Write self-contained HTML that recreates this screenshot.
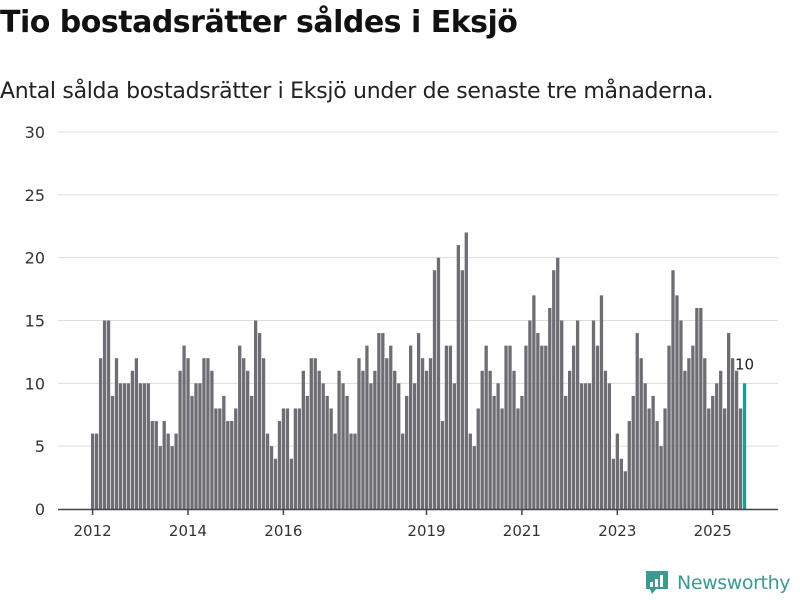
<!DOCTYPE html>
<html><head><meta charset="utf-8">
<style>
body{margin:0;background:#fff;font-family:"Liberation Sans","DejaVu Sans",sans-serif;}
#wrap{position:relative;width:800px;height:600px;overflow:hidden;}
h1{position:absolute;left:0;top:5px;margin:0;font-size:30px;font-weight:bold;color:#111;font-family:"DejaVu Sans","Liberation Sans",sans-serif;letter-spacing:-0.5px}
.sub{position:absolute;left:0;top:79px;font-size:22px;color:#222;font-family:"DejaVu Sans","Liberation Sans",sans-serif;letter-spacing:-0.3px}
</style></head><body>
<div id="wrap">
<h1>Tio bostadsrätter såldes i Eksjö</h1>
<div class="sub">Antal sålda bostadsrätter i Eksjö under de senaste tre månaderna.</div>
<svg id="chart" width="800" height="600" style="position:absolute;left:0;top:0"></svg>
</div>
<script>
const values = [6,6,12,15,15,9,12,10,10,10,11,12,10,10,10,7,7,5,7,6,5,6,11,13,
12,9,10,10,12,12,11,8,8,9,7,7,8,13,12,11,9,15,14,12,6,5,4,7,
8,8,4,8,8,11,9,12,12,11,10,9,8,6,11,10,9,6,6,12,11,13,10,11,
14,14,12,13,11,10,6,9,13,10,14,12,11,12,19,20,7,13,13,10,21,19,22,6,
5,8,11,13,11,9,10,8,13,13,11,8,9,13,15,17,14,13,13,16,19,20,15,9,
11,13,15,10,10,10,15,13,17,11,10,4,6,4,3,7,9,14,12,10,8,9,7,5,
8,13,19,17,15,11,12,13,16,16,12,8,9,10,11,8,14,12,11,8,10];
const yTicks = [0,5,10,15,20,25,30];
const xTickLabels = ["2012","2014","2016","2019","2021","2023","2025"];
const xTickIndex = [0,24,48,84,108,132,156];

const NS="http://www.w3.org/2000/svg";
const svg=document.getElementById('chart');
const y0=509, pxPerUnit=(509-132)/30;
function yScale(v){return y0 - v*pxPerUnit;}
function xScale(i){return 91 + i*3.975;}
function mk(tag,attrs){const e=document.createElementNS(NS,tag);for(const k in attrs)e.setAttribute(k,attrs[k]);svg.appendChild(e);return e;}

yTicks.forEach(t=>{
  const y=yScale(t);
  if(t>0){const g=mk('line',{x1:58,x2:778,y1:y,y2:y,stroke:'#dcdcdc','stroke-width':1});
  
  }
  const tx=mk('text',{x:45,y:y+6,'text-anchor':'end','font-size':16,fill:'#333','font-family':'DejaVu Sans, Liberation Sans, sans-serif'});
  tx.textContent=t;
  
  
});

values.forEach((v,i)=>{
  const last=i===values.length-1;
  const r=mk('rect',{x:xScale(i),y:yScale(v),width:3.3,height:v*pxPerUnit,fill:last?'#16a096':'#6e6d74'});
  
  
  if(last){
    const l=mk('text',{x:xScale(i)+1.6,y:yScale(v)-14,'text-anchor':'middle','font-size':15,fill:'#222','font-family':'DejaVu Sans, Liberation Sans, sans-serif'});
    l.textContent=v;
    
    
  }
});

const ax=mk('line',{x1:58,x2:778,y1:y0+0.5,y2:y0+0.5,stroke:'#444','stroke-width':1.5});



xTickLabels.forEach((lab,j)=>{
  const x=xScale(xTickIndex[j])+1.6;
  const tk=mk('line',{x1:x,x2:x,y1:y0,y2:y0+6,stroke:'#444','stroke-width':1.5});
  
  
  const t=mk('text',{x:x,y:536,'text-anchor':'middle','font-size':15,fill:'#333','font-family':'DejaVu Sans, Liberation Sans, sans-serif'});
  t.textContent=lab;
  
  
});

const lg=document.createElementNS(NS,'g');


svg.appendChild(lg);
lg.innerHTML='<path d="M646 571 h22 v18 h-12 l-4 5 l-2 -5 h-4 z" fill="#3a9b92"/>'+
'<rect x="650" y="582" width="3" height="5" fill="#fff"/><rect x="655" y="579" width="3" height="8" fill="#fff"/><rect x="660" y="575" width="3" height="12" fill="#fff"/>'+
'<text x="677" y="589" font-size="19" fill="#3a9b92" letter-spacing="-0.4" font-family="DejaVu Sans, Liberation Sans, sans-serif">Newsworthy</text>';
</script>
</body></html>
